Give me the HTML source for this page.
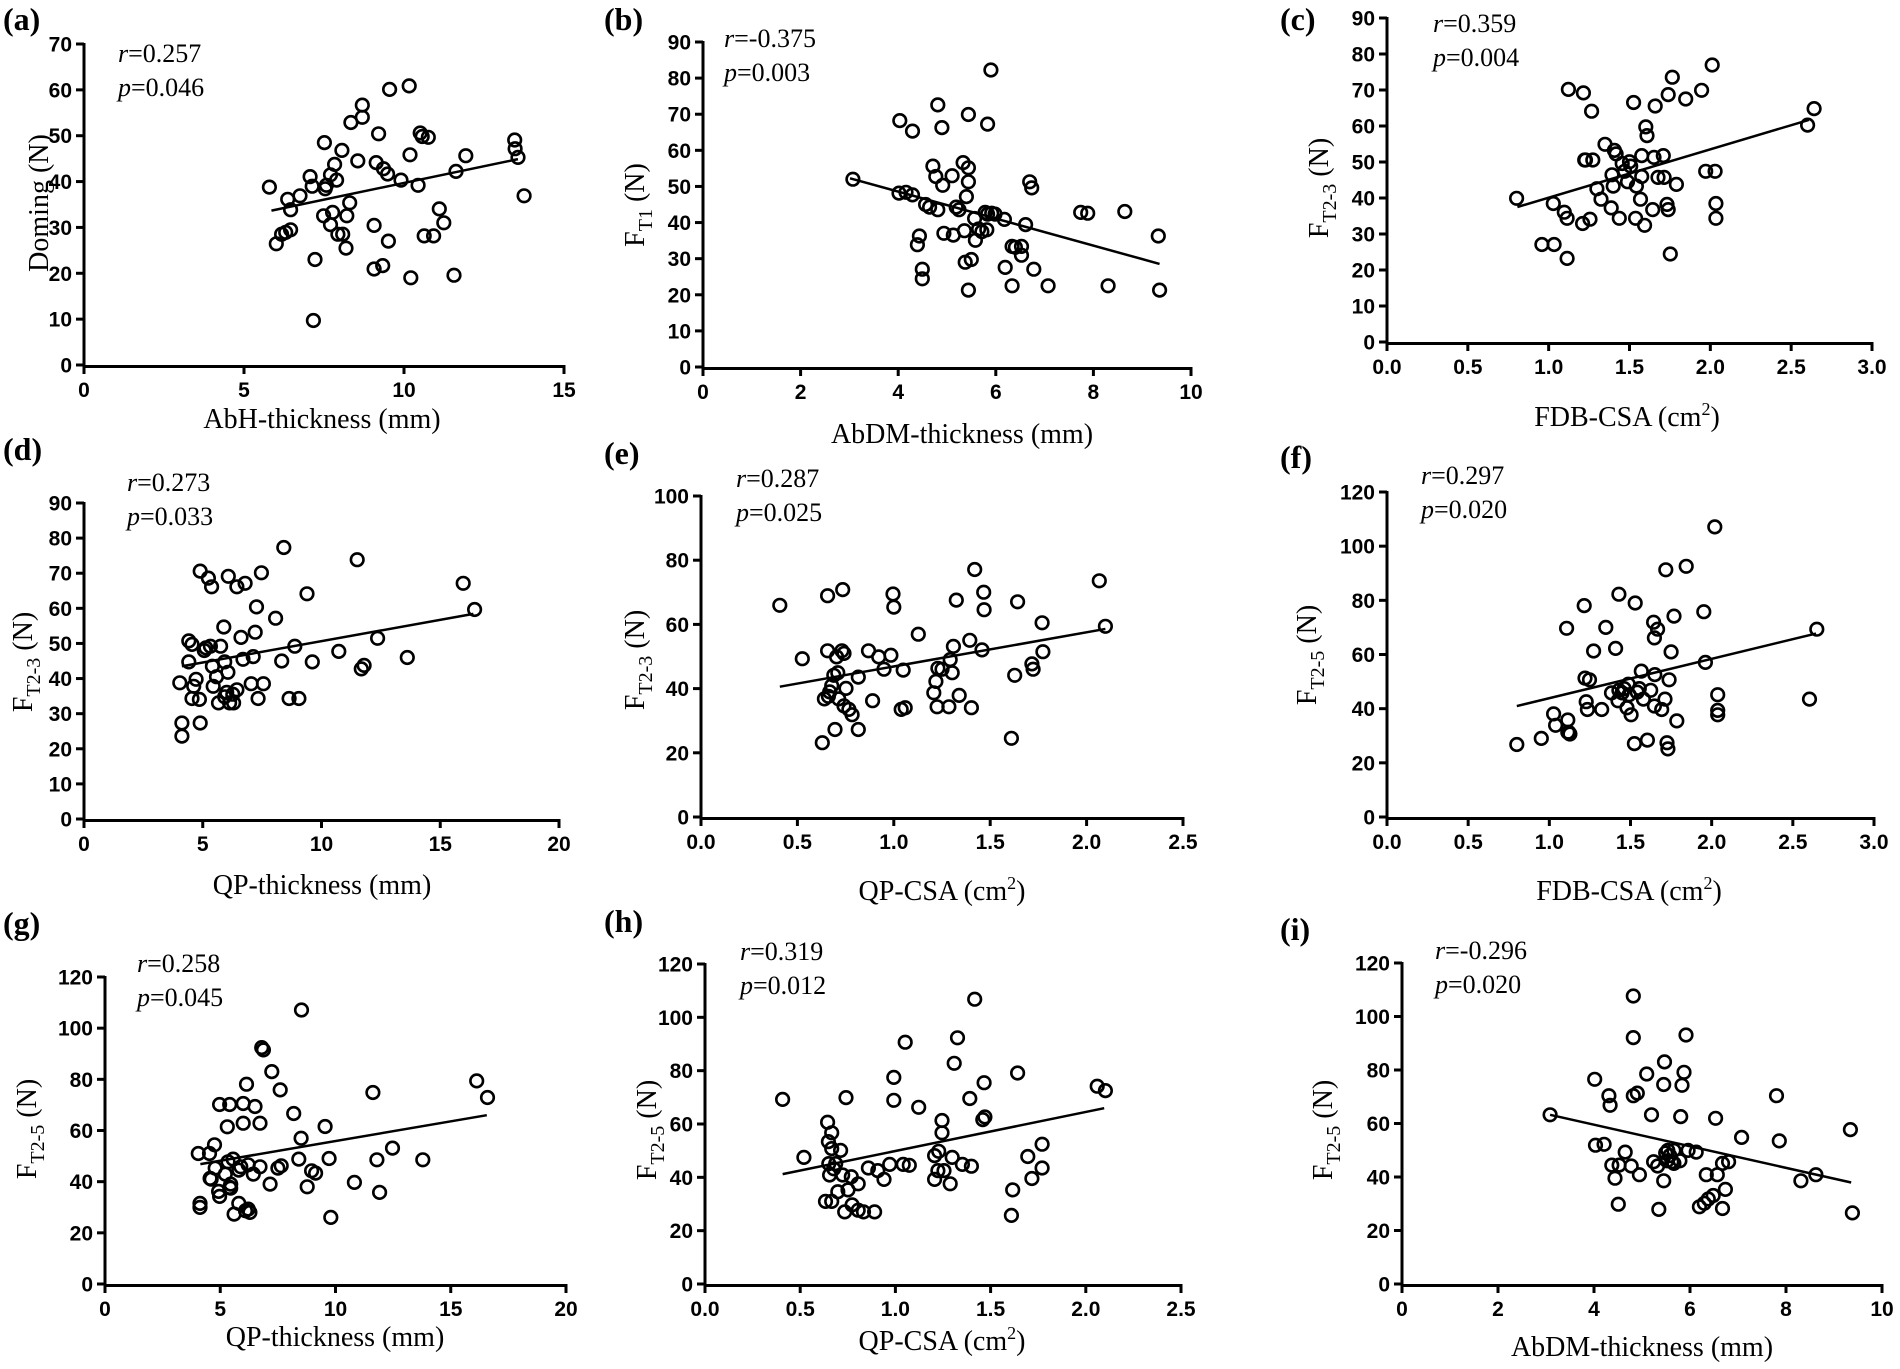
<!DOCTYPE html>
<html><head><meta charset="utf-8"><style>
html,body{margin:0;padding:0;background:#fff;}
svg{display:block;}
.tk{font-family:"Liberation Sans Narrow","Liberation Sans",sans-serif;font-weight:bold;font-size:21px;fill:#000;}
.tt{font-family:"Liberation Serif",serif;font-size:28px;fill:#000;}
.rp{font-family:"Liberation Serif",serif;font-size:26px;fill:#000;}
.pl{font-family:"Liberation Serif",serif;font-weight:bold;font-size:32px;fill:#000;}
</style></head><body>
<svg id="s" xmlns="http://www.w3.org/2000/svg" width="1900" height="1369" viewBox="0 0 1900 1369"></svg>
<script>
var P=[
{lab:"(a)",lx:3,ly:30,pc:[205,1383,418,50],x0:84,x1:564,xmax:15,xs:5,dec:0,y0:365,y1:44,ymax:70,ys:10,
 rx:118,ry:62,r:"=0.257",p:"=0.046",xt:"AbH-thickness (mm)",xtx:322,xty:428,yt:"Doming (N)",sub:"",ytx:38,yty:203,
 line:[665,241,1270,182],
 pts:[[660,214],[677,279],[690,268],[700,266],[705,228],[712,263],[712,240],[735,224],[760,202],[765,213],[772,297],[768,367],[795,163],[797,216],[793,247],[800,212],[810,200],[810,257],[815,243],[820,188],[825,206],[838,172],[828,268],[840,268],[848,284],[850,247],[857,232],[860,140],[877,184],[888,120],[888,134],[917,258],[917,308],[922,186],[928,153],[938,304],[940,193],[950,199],[952,276],[955,102],[983,206],[1003,98],[1005,177],[1007,318],[1025,212],[1030,152],[1035,156],[1040,270],[1050,157],[1063,270],[1077,239],[1088,255],[1113,315],[1118,196],[1142,178],[1262,160],[1263,170],[1270,180],[1285,224]]},
{lab:"(d)",lx:3,ly:460,pc:[205,1370,938,576],x0:84,x1:559,xmax:20,xs:5,dec:0,y0:819,y1:503,ymax:90,ys:10,
 rx:127,ry:491,r:"=0.273",p:"=0.033",xt:"QP-thickness (mm)",xtx:322,xty:894,yt:"F",sub:"T2-3",ytx:22,yty:662,
 line:[445,763,1160,703],
 pts:[[440,782],[445,828],[445,843],[462,734],[462,758],[470,738],[474,786],[480,778],[488,801],[490,654],[490,828],[504,742],[510,662],[515,740],[518,672],[520,763],[522,786],[530,775],[535,805],[540,740],[548,718],[550,758],[550,798],[555,793],[558,770],[559,660],[562,805],[570,795],[572,805],[580,790],[580,672],[590,730],[595,755],[600,668],[615,783],[620,752],[625,724],[628,695],[632,800],[640,656],[645,783],[675,708],[690,757],[695,627],[708,800],[732,800],[752,680],[765,758],[830,746],[875,641],[885,766],[892,762],[925,731],[998,753],[1135,668],[1163,698],[722,740],[470,800],[500,745]]},
{lab:"(g)",lx:3,ly:934,pc:[315,1683,1245,323],x0:105,x1:566,xmax:20,xs:5,dec:0,y0:1284,y1:977,ymax:120,ys:20,
 rx:137,ry:972,r:"=0.258",p:"=0.045",xt:"QP-thickness (mm)",xtx:335,xty:1346,yt:"F",sub:"T2-5",ytx:26,yty:1129,
 line:[598,885,1448,738],
 pts:[[597,1003],[597,1015],[592,853],[625,853],[640,827],[642,897],[627,928],[630,930],[652,967],[655,982],[655,706],[685,706],[678,773],[680,878],[688,945],[688,957],[698,1035],[712,1003],[695,870],[725,703],[725,762],[735,645],[740,887],[712,903],[732,1025],[740,1020],[745,1030],[760,712],[775,762],[755,915],[775,893],[780,535],[785,542],[810,607],[805,945],[835,662],[828,897],[838,890],[875,733],[897,807],[890,870],[898,422],[915,953],[928,905],[940,912],[968,772],[980,868],[985,1045],[1055,940],[1110,670],[1122,872],[1130,970],[1168,837],[1258,872],[1418,635],[1450,685],[672,915],[685,955],[718,893]]},
{lab:"(b)",lx:604,ly:30,pc:[155,1350,420,48],x0:703,x1:1191,xmax:10,xs:2,dec:0,y0:367,y1:42,ymax:90,ys:10,
 rx:724,ry:47,r:"=-0.375",p:"=0.003",xt:"AbDM-thickness (mm)",xtx:962,xty:443,yt:"F",sub:"T1",ytx:634,yty:205,
 line:[515,204,1273,302],
 pts:[[522,205],[637,138],[635,221],[652,220],[668,150],[668,223],[685,270],[680,280],[692,308],[692,319],[700,234],[718,190],[725,202],[730,120],[730,240],[740,146],[742,212],[745,267],[765,201],[768,269],[775,237],[782,240],[792,186],[795,264],[797,300],[800,225],[805,131],[805,192],[805,208],[805,332],[812,297],[820,250],[822,275],[830,262],[838,265],[846,243],[852,142],[852,245],[860,80],[862,244],[870,245],[893,251],[895,306],[912,327],[912,282],[920,283],[935,292],[935,282],[945,257],[955,208],[960,215],[965,308],[1000,327],[1080,243],[1097,244],[1147,327],[1188,242],[1270,270],[1273,332],[850,263],[710,237]]},
{lab:"(e)",lx:604,ly:464,pc:[150,1330,935,568],x0:701,x1:1183,xmax:2.5,xs:0.5,dec:1,y0:817,y1:496,ymax:100,ys:20,
 rx:736,ry:487,r:"=0.287",p:"=0.025",xt:"QP-CSA (cm",sup:"2",xtx:942,xty:900,yt:"F",sub:"T2-3",ytx:634,yty:660,
 line:[343,786,1140,720],
 pts:[[343,693],[398,754],[447,850],[452,800],[460,682],[460,745],[462,797],[465,792],[470,785],[475,773],[478,835],[482,752],[485,770],[487,800],[497,675],[500,748],[500,808],[505,788],[512,812],[520,818],[535,775],[535,835],[560,745],[570,802],[585,752],[598,766],[615,750],[620,680],[622,695],[640,812],[645,767],[650,810],[682,726],[720,793],[725,780],[728,809],[730,765],[740,766],[757,809],[760,755],[768,740],[775,687],[782,796],[808,733],[812,810],[820,652],[838,744],[842,678],[843,698],[910,845],[918,773],[925,689],[960,760],[963,766],[985,713],[987,746],[1125,665],[1140,717],[765,770],[495,745]]},
{lab:"(h)",lx:604,ly:932,pc:[160,1325,1462,1098],x0:705,x1:1181,xmax:2.5,xs:0.5,dec:1,y0:1284,y1:964,ymax:120,ys:20,
 rx:740,ry:960,r:"=0.319",p:"=0.012",xt:"QP-CSA (cm",sup:"2",xtx:942,xty:1350,yt:"F",sub:"T2-5",ytx:646,yty:1130,
 line:[350,1337,1137,1262],
 pts:[[350,1252],[402,1318],[455,1368],[460,1278],[462,1300],[463,1325],[465,1338],[470,1308],[470,1368],[475,1331],[480,1325],[485,1357],[492,1310],[497,1338],[502,1380],[505,1250],[510,1355],[518,1340],[520,1372],[535,1378],[535,1348],[548,1380],[560,1330],[575,1380],[583,1333],[598,1343],[612,1326],[622,1253],[622,1227],[645,1326],[650,1187],[660,1327],[683,1261],[722,1316],[722,1343],[730,1333],[740,1276],[740,1290],[745,1333],[760,1348],[765,1318],[770,1211],[778,1182],[790,1326],[808,1251],[812,1328],[820,1138],[840,1275],[843,1233],[845,1272],[910,1384],[913,1355],[925,1222],[950,1317],[960,1342],[985,1303],[985,1330],[1120,1237],[1140,1242],[732,1311],[470,1290]]},
{lab:"(c)",lx:1280,ly:30,pc:[310,1500,392,20],x0:1387,x1:1872,xmax:3,xs:0.5,dec:1,y0:342,y1:18,ymax:90,ys:10,
 rx:1433,ry:32,r:"=0.359",p:"=0.004",xt:"FDB-CSA (cm",sup:"2",xtx:1627,xty:426,yt:"F",sub:"T2-3",ytx:1318,yty:188,
 line:[630,237,1345,137],
 pts:[[628,227],[690,280],[720,280],[718,233],[745,243],[752,250],[752,296],[755,102],[792,106],[790,256],[797,183],[808,251],[812,127],[815,183],[825,216],[835,228],[845,165],[860,238],[862,200],[865,213],[868,172],[872,176],[880,250],[887,187],[893,196],[900,208],[905,185],[908,190],[915,117],[920,250],[932,228],[935,178],[935,202],[942,258],[945,145],[948,155],[962,240],[965,180],[968,121],[975,203],[988,178],[990,203],[997,234],[1000,240],[1005,291],[1000,108],[1010,88],[1020,211],[1043,113],[1082,103],[1092,196],[1108,74],[1115,196],[1117,233],[1117,250],[1342,143],[1358,124],[795,183],[922,213]]},
{lab:"(f)",lx:1280,ly:468,pc:[312,1505,935,563],x0:1387,x1:1874,xmax:3,xs:0.5,dec:1,y0:817,y1:492,ymax:120,ys:20,
 rx:1421,ry:484,r:"=0.297",p:"=0.020",xt:"FDB-CSA (cm",sup:"2",xtx:1629,xty:900,yt:"F",sub:"T2-5",ytx:1306,yty:655,
 line:[630,808,1363,725],
 pts:[[630,852],[690,845],[720,817],[725,830],[752,719],[755,824],[755,838],[757,838],[795,693],[797,776],[800,803],[803,812],[808,778],[818,745],[838,812],[848,718],[862,793],[872,742],[878,802],[880,680],[888,793],[893,788],[900,810],[903,783],[905,795],[910,818],[918,851],[920,690],[925,792],[930,788],[935,768],[940,800],[950,847],[958,790],[965,712],[967,730],[967,808],[968,772],[975,720],[985,812],[993,800],[995,652],[998,850],[1000,857],[1003,778],[1008,746],[1015,705],[1022,825],[1045,648],[1088,700],[1092,758],[1115,603],[1122,795],[1122,813],[1122,818],[1347,800],[1365,720],[760,840],[880,790]]},
{lab:"(i)",lx:1280,ly:940,pc:[345,1528,1474,1104],x0:1402,x1:1882,xmax:10,xs:2,dec:0,y0:1284,y1:963,ymax:120,ys:20,
 rx:1435,ry:959,r:"=-0.296",p:"=0.020",xt:"AbDM-thickness (mm)",xtx:1642,xty:1356,yt:"F",sub:"T2-5",ytx:1322,yty:1130,
 line:[710,1279,1452,1357],
 pts:[[710,1279],[820,1238],[822,1314],[843,1313],[855,1257],[858,1268],[862,1337],[870,1352],[878,1382],[880,1337],[895,1322],[910,1338],[915,1142],[915,1190],[915,1257],[925,1254],[930,1348],[948,1232],[960,1279],[965,1333],[975,1338],[978,1388],[990,1244],[990,1355],[992,1218],[995,1323],[998,1332],[1005,1326],[1010,1333],[1015,1320],[1030,1332],[1032,1281],[1035,1245],[1040,1230],[1045,1187],[1050,1320],[1070,1322],[1078,1385],[1090,1381],[1095,1348],[1100,1376],[1112,1372],[1118,1283],[1122,1348],[1135,1387],[1135,1335],[1142,1365],[1150,1333],[1182,1305],[1268,1257],[1275,1309],[1328,1355],[1365,1348],[1450,1296],[1455,1392],[1015,1335],[1000,1320]]}
];
var h=[];
function X(p,v){var c=p.pc;return p.x0+(v-c[0])/(c[1]-c[0])*(p.x1-p.x0);}
function Y(p,v){var c=p.pc;return p.y0+(v-c[2])/(c[3]-c[2])*(p.y1-p.y0);}
P.forEach(function(p){
 var ay=p.y0;
 h.push('<text class="pl" x="'+p.lx+'" y="'+p.ly+'">'+p.lab+'</text>');
 h.push('<path d="M'+p.x0+' '+(p.y1-1)+'V'+(ay+1.5)+'H'+p.x1+'" fill="none" stroke="#000" stroke-width="3"/>');
 for(var v=0;v<=p.ymax+1e-9;v+=p.ys){var y=p.y0-(p.y0-p.y1)*v/p.ymax;
  h.push('<line x1="'+(p.x0-8)+'" y1="'+y+'" x2="'+p.x0+'" y2="'+y+'" stroke="#000" stroke-width="3"/>');
  h.push('<text class="tk" text-anchor="end" x="'+(p.x0-12)+'" y="'+(y+7.5)+'">'+Math.round(v)+'</text>');}
 for(var v=0;v<=p.xmax+1e-9;v+=p.xs){var x=p.x0+(p.x1-p.x0)*v/p.xmax;
  h.push('<line x1="'+x+'" y1="'+ay+'" x2="'+x+'" y2="'+(ay+9)+'" stroke="#000" stroke-width="3"/>');
  h.push('<text class="tk" text-anchor="middle" x="'+x+'" y="'+(ay+32)+'">'+v.toFixed(p.dec)+'</text>');}
 h.push('<text class="rp" x="'+p.rx+'" y="'+p.ry+'"><tspan font-style="italic">r</tspan>'+p.r+'</text>');
 h.push('<text class="rp" x="'+p.rx+'" y="'+(p.ry+34)+'"><tspan font-style="italic">p</tspan>'+p.p+'</text>');
 h.push('<text class="tt" text-anchor="middle" x="'+p.xtx+'" y="'+p.xty+'">'+p.xt+(p.sup?'<tspan font-size="18" dy="-11">'+p.sup+'</tspan><tspan dy="11">)</tspan>':'')+'</text>');
 h.push('<text class="tt" text-anchor="middle" transform="translate('+(p.ytx+10)+' '+p.yty+') rotate(-90)">'+p.yt+(p.sub?'<tspan font-size="20" dy="8">'+p.sub+'</tspan><tspan dy="-8"> (N)</tspan>':'')+'</text>');
 var L=p.line;
 h.push('<line x1="'+X(p,L[0])+'" y1="'+Y(p,L[1])+'" x2="'+X(p,L[2])+'" y2="'+Y(p,L[3])+'" stroke="#000" stroke-width="2.5"/>');
 p.pts.forEach(function(q){h.push('<circle cx="'+X(p,q[0]).toFixed(1)+'" cy="'+Y(p,q[1]).toFixed(1)+'" r="6.3" fill="none" stroke="#000" stroke-width="2.6"/>');});
});
document.getElementById('s').innerHTML=h.join('');
</script>
</body></html>
